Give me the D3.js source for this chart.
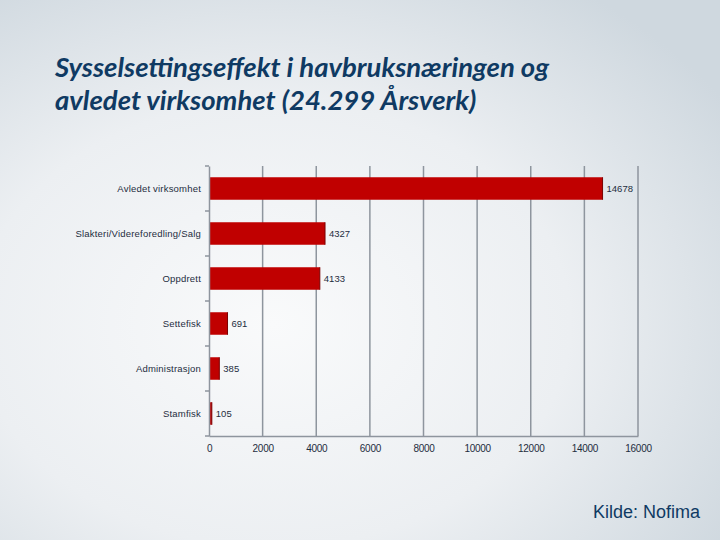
<!DOCTYPE html>
<html>
<head>
<meta charset="utf-8">
<script src="https://cdn.jsdelivr.net/npm/d3@7"></script>
<style>
  html, body { margin: 0; padding: 0; }
  #chart { width: 720px; height: 540px; }
</style>
</head>
<body>
<div id="chart"></div>
<script>
const categories = ['Avledet virksomhet', 'Slakteri/Videreforedling/Salg', 'Oppdrett', 'Settefisk', 'Administrasjon', 'Stamfisk'];
const values = [14678, 4327, 4133, 691, 385, 105];
const xTicks = [0, 2000, 4000, 6000, 8000, 10000, 12000, 14000, 16000];
const titleLines = ['Sysselsettingseffekt i havbruksnæringen og', 'avledet virksomhet (24.299 Årsverk)'];
const source = 'Kilde: Nofima';

const width = 720, height = 540;
const plot = { left: 209, right: 638, top: 166, bottom: 436 };

const svg = d3.select('#chart')
    .append('svg')
    .attr('width', width)
    .attr('height', height);

// background gradient
const defs = svg.append('defs');
const grad = defs.append('radialGradient')
    .attr('id', 'bg')
    .attr('cx', '0.38').attr('cy', '0.6').attr('r', '0.75');
grad.append('stop').attr('offset', '0%').attr('stop-color', '#f9fafb');
grad.append('stop').attr('offset', '55%').attr('stop-color', '#eceff2');
grad.append('stop').attr('offset', '100%').attr('stop-color', '#cfd8df');

svg.append('rect')
    .attr('width', width).attr('height', height)
    .attr('fill', 'url(#bg)');

// title
svg.append('g').selectAll('text')
    .data(titleLines)
    .enter()
    .append('text')
    .attr('x', 55)
    .attr('y', (d, i) => 77 + i * 33)
    .style('font-family', 'Lato, "Open Sans", sans-serif')
    .style('font-size', '27.5px')
    .style('font-weight', '700')
    .style('font-style', 'italic')
    .style('fill', '#0f3a63')
    .text(d => d);

const x = d3.scaleLinear()
    .domain([0, 16000])
    .range([plot.left, plot.right]);

const y = d3.scaleBand()
    .domain(categories)
    .range([plot.top, plot.bottom])
    .paddingInner(0.5)
    .paddingOuter(0.25);

const g = svg.append('g');

// vertical gridlines
g.selectAll('.grid')
    .data(xTicks.slice(1))
    .enter()
    .append('line')
    .attr('x1', d => x(d)).attr('x2', d => x(d))
    .attr('y1', plot.top).attr('y2', plot.bottom)
    .attr('stroke', '#8e959e')
    .attr('stroke-width', 1.5);

// bars
g.selectAll('.bar')
    .data(values)
    .enter()
    .append('rect')
    .attr('x', x(0))
    .attr('y', (d, i) => y(categories[i]))
    .attr('width', d => x(d) - x(0))
    .attr('height', y.bandwidth())
    .attr('fill', '#c00000');

// thin dark edge at the end of each bar
g.selectAll('.edge')
    .data(values)
    .enter()
    .append('line')
    .attr('x1', d => x(d)).attr('x2', d => x(d))
    .attr('y1', (d, i) => y(categories[i]))
    .attr('y2', (d, i) => y(categories[i]) + y.bandwidth())
    .attr('stroke', '#7a0000')
    .attr('stroke-width', 1);

// value labels
g.selectAll('.val')
    .data(values)
    .enter()
    .append('text')
    .attr('x', d => x(d) + 4)
    .attr('y', (d, i) => y(categories[i]) + y.bandwidth() / 2)
    .attr('dominant-baseline', 'central')
    .style('font-family', '"Liberation Sans", Arial, sans-serif')
    .style('font-size', '9.5px')
    .style('fill', '#1e2d40')
    .text(d => d);

// y axis
const yAxis = d3.axisLeft(y).tickSize(0).tickPadding(8);
const yG = svg.append('g')
    .attr('transform', `translate(${plot.left},0)`)
    .call(yAxis);
yG.select('.domain').attr('stroke', '#8e959e').attr('stroke-width', 1.5);
yG.selectAll('text')
    .style('font-family', '"Liberation Sans", Arial, sans-serif')
    .style('font-size', '9.5px')
    .style('letter-spacing', '0.2px')
    .style('fill', '#1e2d40');

// small ticks at category boundaries
const bounds = categories.map(c => y(c) - y.step() * y.paddingInner() / 2).concat([plot.bottom]);
svg.append('g').selectAll('line')
    .data(bounds)
    .enter()
    .append('line')
    .attr('x1', plot.left - 4).attr('x2', plot.left)
    .attr('y1', d => d).attr('y2', d => d)
    .attr('stroke', '#8e959e')
    .attr('stroke-width', 1.5);

// x axis
const xAxis = d3.axisBottom(x).tickValues(xTicks).tickSize(0).tickPadding(9).tickFormat(d3.format('d'));
const xG = svg.append('g')
    .attr('transform', `translate(0,${plot.bottom})`)
    .call(xAxis);
xG.select('.domain').attr('stroke', '#8e959e').attr('stroke-width', 1.5);
xG.selectAll('text')
    .style('font-family', '"Liberation Sans", Arial, sans-serif')
    .style('font-size', '10px')
    .style('letter-spacing', '-0.3px')
    .style('fill', '#1e2d40');

// source
svg.append('text')
    .attr('x', 700)
    .attr('y', 518)
    .attr('text-anchor', 'end')
    .style('font-family', '"Liberation Sans", Arial, sans-serif')
    .style('font-size', '18px')
    .style('fill', '#0f3a63')
    .text(source);
</script>
</body>
</html>
